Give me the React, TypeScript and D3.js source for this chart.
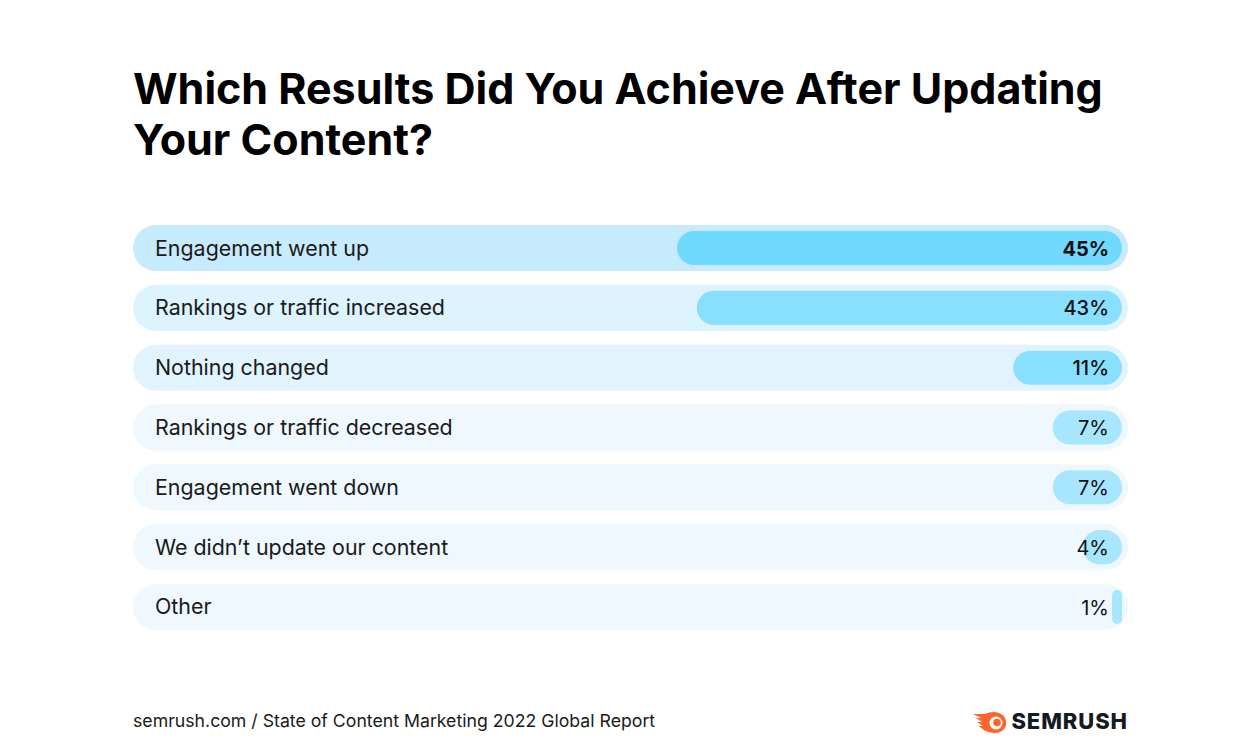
import React, { useEffect, useRef } from "react";
import * as d3 from "d3";

const categories = [
  "Engagement went up",
  "Rankings or traffic increased",
  "Nothing changed",
  "Rankings or traffic decreased",
  "Engagement went down",
  "We didn\u2019t update our content",
  "Other",
];
const values = [45, 43, 11, 7, 7, 4, 1];
const trackColors = ["#c7ebfd", "#ddf3fd", "#e1f4fd", "#eef8fe", "#eef8fe", "#eef8fe", "#eef8fe"];
const barColors = ["#6fd9fe", "#89e0fe", "#89e0fe", "#a8e6fd", "#a8e6fd", "#a8e6fd", "#a8e6fd"];
const valueWeights = [700, 500, 500, 400, 400, 400, 400];

const titleLines = ["Which Results Did You Achieve After Updating", "Your Content?"];
const footnote = "semrush.com / State of Content Marketing 2022 Global Report";

const width = 1256;
const height = 751;
const left = 133;
const right = 1128;
const top = 225;
const bottom = 630;
const inset = 6;

const App: React.FC = () => {
  const svgRef = useRef<SVGSVGElement | null>(null);

  useEffect(() => {
    const svg = d3.select(svgRef.current);
    svg.selectAll("*").remove();

    svg.append("rect").attr("width", width).attr("height", height).attr("fill", "#ffffff");

    svg
      .append("g")
      .selectAll("text")
      .data(titleLines)
      .enter()
      .append("text")
      .attr("x", left)
      .attr("y", (d, i) => 104 + i * 51)
      .attr("font-family", "Inter, 'Open Sans', sans-serif")
      .attr("font-weight", 700)
      .attr("font-size", 43)
      .attr("fill", "#000000")
      .text((d) => d);

    const y = d3
      .scaleBand<string>()
      .domain(categories)
      .range([top, bottom])
      .paddingInner(0.23)
      .paddingOuter(0);

    const barRight = right - inset;
    const x = d3.scaleLinear().domain([0, 100]).range([0, barRight - left]);

    const rows = svg
      .append("g")
      .selectAll("g")
      .data(categories)
      .enter()
      .append("g")
      .attr("transform", (d) => `translate(0, ${y(d)})`);

    const bh = y.bandwidth();

    rows
      .append("rect")
      .attr("x", left)
      .attr("width", right - left)
      .attr("height", bh)
      .attr("rx", bh / 2)
      .attr("fill", (d, i) => trackColors[i]);

    rows
      .append("rect")
      .attr("x", (d, i) => barRight - x(values[i]))
      .attr("y", inset)
      .attr("width", (d, i) => x(values[i]))
      .attr("height", bh - inset * 2)
      .attr("rx", (d, i) => Math.min((bh - inset * 2) / 2, x(values[i]) / 2))
      .attr("fill", (d, i) => barColors[i]);

    rows
      .append("text")
      .attr("x", left + 22)
      .attr("y", bh / 2)
      .attr("dy", "0.35em")
      .attr("font-family", "Inter, 'Open Sans', sans-serif")
      .attr("font-size", 21.4)
      .attr("fill", "#1a1a1a")
      .text((d) => d);

    rows
      .append("text")
      .attr("x", right - 19)
      .attr("y", bh / 2)
      .attr("dy", "0.38em")
      .attr("text-anchor", "end")
      .attr("font-family", "Inter, 'Open Sans', sans-serif")
      .attr("font-size", 20)
      .attr("font-weight", (d, i) => valueWeights[i])
      .attr("fill", "#111111")
      .text((d, i) => `${values[i]}%`);

    svg
      .append("text")
      .attr("x", left)
      .attr("y", 727)
      .attr("font-family", "Inter, 'Open Sans', sans-serif")
      .attr("font-size", 17.7)
      .attr("fill", "#1a1a1a")
      .text(footnote);

    // logo
    const logo = svg.append("g").attr("transform", "translate(973, 712)");
    logo
      .append("path")
      .attr(
        "d",
        "M0,2 L12,2 C16,0 22,-1 26,1 C32,3 34,9 33,13 C32,18 27,21 22,21 C14,21 9,17 6,14 L10,14 L4,10 L9,10 L3,6 L8,6 Z"
      )
      .attr("fill", "#ff642d");
    logo.append("circle").attr("cx", 23).attr("cy", 11).attr("r", 6.5).attr("fill", "#ffffff");
    logo.append("circle").attr("cx", 24).attr("cy", 10.5).attr("r", 3.8).attr("fill", "#ff642d");
    svg
      .append("text")
      .attr("x", 1128)
      .attr("y", 729)
      .attr("text-anchor", "end")
      .attr("font-family", "Inter, 'Open Sans', sans-serif")
      .attr("font-weight", 800)
      .attr("font-size", 22)
      .attr("letter-spacing", 0.9)
      .attr("fill", "#171a22")
      .text("SEMRUSH");
  }, []);

  return <svg ref={svgRef} width={width} height={height} style={{ display: "block", margin: -8 }} />;
};

export default App;
